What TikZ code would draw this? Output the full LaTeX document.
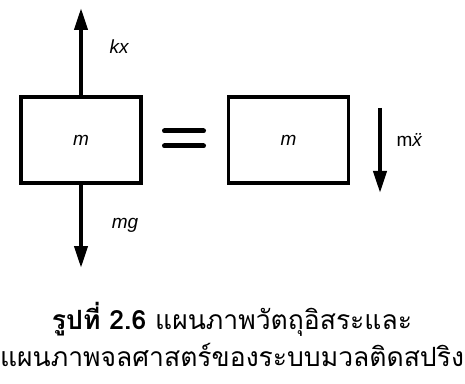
\documentclass[tikz,border=0pt]{standalone}
\usepackage{fontspec}
\setmainfont{Liberation Sans}
\newfontfamily\thaifont[Script=Thai]{Loma}
\usetikzlibrary{positioning,arrows.meta}

\begin{document}
\begin{tikzpicture}[x=1pt, y=1pt,
  mass/.style={rectangle, draw=black, line width=3.5pt, minimum width=120pt,
               minimum height=86pt, font=\fontsize{19}{22}\selectfont\itshape},
  force/.style={-{Triangle[length=22pt,width=13pt]}, line width=4pt},
  lbl/.style={font=\fontsize{19}{22}\selectfont},
  itlbl/.style={font=\fontsize{19}{22}\selectfont\itshape},
  eqbar/.style={line width=5pt, line cap=round},
]
\useasboundingbox (0,0) rectangle (465,383);
% free body diagram
\node[mass] (free) at (81,243) {m};
\coordinate (uptip) at (81,375);
\coordinate (downtip) at (81,115);
\draw[force] (free.north) -- (uptip);
\draw[force] (free.south) -- (downtip);
\node[itlbl] (kx) at (119,336) {kx};
\node[itlbl] (mg) at (125,158) {mg};
% equals sign
\coordinate (eqa) at (164.5,252);
\coordinate (eqb) at (203.5,252);
\coordinate (eqc) at (164.5,237);
\coordinate (eqd) at (203.5,237);
\draw[eqbar] (eqa) -- (eqb);
\draw[eqbar] (eqc) -- (eqd);
% kinetic diagram
\node[mass, right=84pt of free] (kin) {m};
\coordinate (acctop) at (380,275);
\coordinate (accend) at (380,190);
\draw[force] (acctop) -- (accend);
\node[lbl, anchor=west] (macc) at (393,243) {m\textit{\"{x}}};
% caption
\node[font=\thaifont\fontsize{26.5}{37}\selectfont, align=center] (cap) at (232,49)
  {\textbf{รูปที่ 2.6} แผนภาพวัตถุอิสระและ\\แผนภาพจลศาสตร์ของระบบมวลติดสปริง};
\end{tikzpicture}
\end{document}
